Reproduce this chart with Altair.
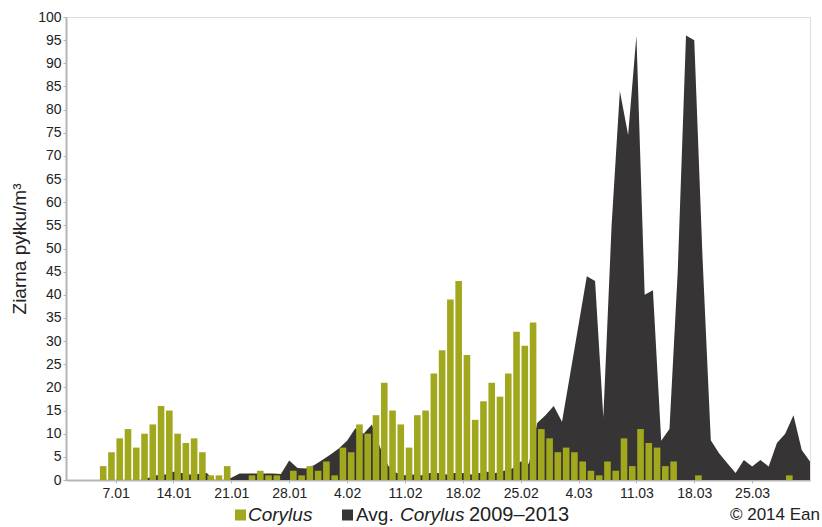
import altair as alt
import pandas as pd

# Day index 0 = 1 January 2014; one band per day
corylus = [
    0, 0, 0, 0,
    3, 6, 9, 11, 7, 10, 12, 16, 15, 10, 8, 9, 6, 1, 1, 3,
    0, 0,
    1, 2, 1, 1,
    0,
    2, 1, 3, 2, 4, 1,
    7, 6, 12, 10, 14, 21, 15, 12, 7, 14, 15, 23, 28, 39, 43, 27, 13, 17, 21, 18, 23, 32, 29, 34,
    11, 9, 6, 7, 6, 4, 2, 1, 4, 2, 9, 3, 11, 8, 7, 3, 4,
    0, 0,
    1,
    0, 0, 0, 0, 0, 0, 0, 0, 0, 0,
    1,
    0, 0,
]

avg_2009_2013 = [
    0, 0, 0, 0, 0, 0, 0, 0, 0, 0,
    0.5, 1, 1.2, 1.8, 1.5, 1.2, 1.3, 1.5, 0, 0,
    0.5, 1.4, 1.4, 1.4, 1.4, 1.4, 1.3, 4.2, 2.6, 2.5,
    3.2, 4.3, 5.5, 6.8, 8.5, 11.2, 10, 12, 7, 3,
    1.5, 1, 1.2, 1, 1.5, 1.5, 1.2, 1.5, 1.5, 1.2,
    1.5, 1.8, 1.5, 2, 2.5, 4, 3.5, 12.3, 14, 16,
    12.6, 23, 33.5, 44, 43, 13.5, 55, 84, 74.5, 96,
    40, 41, 8.5, 11, 45, 96, 95, 48, 8.6, 5.8,
    3.6, 1.5, 4.3, 2.9, 4.3, 2.9, 8, 10, 14, 6.5,
    4,
]

tick_days = [6, 13, 20, 27, 34, 41, 48, 55, 62, 69, 76, 83]
y_ticks = list(range(0, 101, 5))

OLIVE = "#a2a81e"
DARK = "#363435"
FONT = "Liberation Sans"

bars_df = pd.DataFrame({
    "start": [d + 0.1 for d in range(len(corylus))],
    "end": [d + 0.9 for d in range(len(corylus))],
    "value": corylus,
})
bars_df = bars_df[bars_df["value"] > 0]

avg_df = pd.DataFrame({"day": list(range(len(avg_2009_2013))), "value": avg_2009_2013})

x_scale = alt.Scale(domain=[0, 90], nice=False, zero=False)
y_scale = alt.Scale(domain=[0, 100], nice=False)

x_axis = alt.Axis(
    values=tick_days,
    labelExpr="timeFormat(datetime(2014, 0, 1 + datum.value), '%-d.%m')",
    title=None,
    grid=False,
    labelFont=FONT,
    labelFontSize=14,
    labelColor="#222222",
    labelPadding=3,
    labelOverlap=False,
    tickSize=3,
    tickColor="#b5b5b5",
    domainColor="#b5b5b5",
    domainWidth=2,
)
y_axis = alt.Axis(
    values=y_ticks,
    title="Ziarna pyłku/m³",
    titleFont=FONT,
    titleFontSize=19,
    titleFontWeight="normal",
    titleColor="#222222",
    titlePadding=8,
    grid=False,
    labelFont=FONT,
    labelFontSize=14,
    labelColor="#222222",
    labelPadding=2,
    labelOverlap=False,
    labelFlush=False,
    tickSize=3,
    tickColor="#b5b5b5",
    domainColor="#b5b5b5",
    domainWidth=2,
)

area = alt.Chart(avg_df).mark_area(color=DARK, interpolate="linear").encode(
    x=alt.X("day:Q", scale=x_scale, axis=x_axis),
    y=alt.Y("value:Q", scale=y_scale, axis=y_axis),
)

bars = alt.Chart(bars_df).mark_rect(color=OLIVE).encode(
    x=alt.X("start:Q", scale=x_scale, axis=x_axis),
    x2="end:Q",
    y=alt.Y("value:Q", scale=y_scale, axis=y_axis),
    y2=alt.datum(0),
)

# Legend row under the axis (positions in pixels relative to the plot area)
one = pd.DataFrame({"k": [0]})
leg_y = 498


def swatch(color, x):
    return alt.Chart(one).mark_square(color=color, size=121, opacity=1).encode(
        x=alt.value(x), y=alt.value(leg_y)
    )


def label(text, x, italic=False, align="left", size=19):
    return alt.Chart(one).mark_text(
        text=text,
        font=FONT,
        fontSize=size,
        fontStyle="italic" if italic else "normal",
        align=align,
        baseline="middle",
        color="#222222",
    ).encode(x=alt.value(x), y=alt.value(leg_y))


legend = [
    swatch(OLIVE, 174.5),
    label("Corylus", 182, italic=True),
    swatch(DARK, 281.5),
    label("Avg.", 290),
    label("Corylus", 334, italic=True),
    label("2009–2013", 403, size=20),
    label("© 2014 Ean", 754, align="right", size=17),
]

chart = alt.layer(area, bars, *legend).resolve_axis(
    x="shared", y="shared"
).properties(
    width=744,
    height=463,
    padding={"left": 66, "top": 17, "right": 12, "bottom": 47},
    autosize=alt.AutoSizeParams(type="none"),
).configure_view(
    stroke="#b5b5b5",
    strokeWidth=1,
).configure(background="white")

chart.save("out.html", embed_options={"renderer": "svg", "actions": False})
